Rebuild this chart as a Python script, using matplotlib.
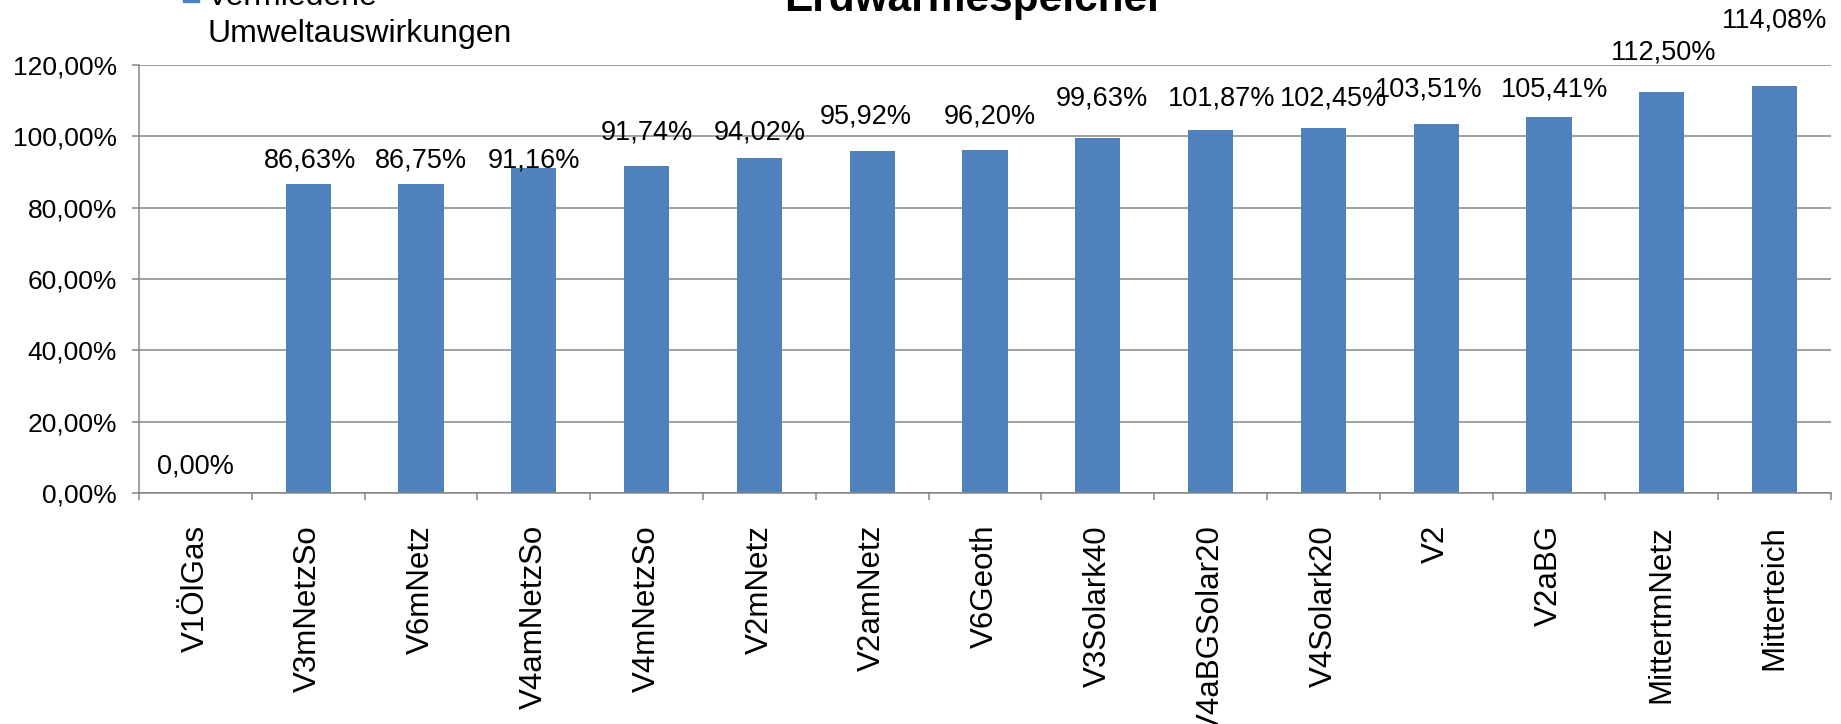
import numpy as np
import matplotlib.pyplot as plt
from matplotlib.patches import Rectangle

plt.rcParams['font.family'] = ['Liberation Sans', 'DejaVu Sans']

# data
varianten = ['V1ÖlGas', 'V3mNetzSo', 'V6mNetz', 'V4amNetzSo', 'V4mNetzSo',
             'V2mNetz', 'V2amNetz', 'V6Geoth', 'V3Solark40', 'V4aBGSolar20',
             'V4Solark20', 'V2', 'V2aBG', 'MittertmNetz', 'Mitterteich']
werte = [0.00, 86.63, 86.75, 91.16, 91.74, 94.02, 95.92, 96.20, 99.63,
         101.87, 102.45, 103.51, 105.41, 112.50, 114.08]
# where the data labels sit (value axis units) and their sideways shift
label_y = [7.3, 93.1, 93.1, 93.1, 101.0, 101.0, 105.6, 105.6, 110.6,
           110.6, 110.6, 113.2, 113.2, 123.4, 132.6]
label_dx = [0, 0.02, 0, 0, 0, 0, -0.06, 0.04, 0.04, 0.1, 0.09, -0.07,
            0.05, 0.02, 0]
yticks = [0, 20, 40, 60, 80, 100, 120]

blue = '#4F81BD'
grey = '#868686'

W, H = 1841, 724
fig = plt.figure(figsize=(W/100, H/100), dpi=100)
x0, x1, ytop, ybot = 139, 1831, 65, 493
ax = fig.add_axes([x0/W, 1-ybot/H, (x1-x0)/W, (ybot-ytop)/H])

x = np.arange(len(varianten))
ax.bar(x, werte, width=0.4, color=blue, zorder=3)
ax.set_xlim(-0.5, len(varianten)-0.5)
ax.set_ylim(0, 120)

def pct(v):
    return f'{v:.2f}'.replace('.', ',') + '%'

for i, v in enumerate(werte):
    ax.text(i + label_dx[i], label_y[i], pct(v), ha='center', va='center',
            fontsize=19.5, zorder=4, clip_on=False)

ax.set_yticks(yticks)
ax.set_yticklabels([pct(t) for t in yticks], fontsize=19)
ax.yaxis.grid(True, color=grey, linewidth=1.1, zorder=0)
ax.tick_params(axis='y', length=5, width=1.1, color=grey, pad=11)

ax.set_xticks(x)
ax.set_xticklabels(varianten, rotation=90, fontsize=22.5, va='top')
ax.set_xticks(np.arange(len(varianten)+1) - 0.5, minor=True)
ax.tick_params(axis='x', which='major', length=0, pad=23)
ax.tick_params(axis='x', which='minor', length=5, width=1.1, color=grey)

for s in ['top', 'right']:
    ax.spines[s].set_visible(False)
for s in ['left', 'bottom']:
    ax.spines[s].set_color(grey)
    ax.spines[s].set_linewidth(1.1)
    ax.spines[s].set_zorder(5)

# title and legend, cut off at the top edge as in the original
fig.text(974/W, 1-11/H, 'Erdwärmespeicher', ha='center', va='baseline',
         fontsize=30.5, fontweight='bold')
fig.patches.append(Rectangle((183/W, 1-2/H), 16/W, 16/H, color=blue,
                             transform=fig.transFigure))
fig.text(207/W, 1-5/H, 'Vermiedene', ha='left', va='baseline', fontsize=23)
fig.text(207/W, 1-42/H, 'Umweltauswirkungen', ha='left', va='baseline',
         fontsize=23)

fig.savefig('out.png', dpi=100)
